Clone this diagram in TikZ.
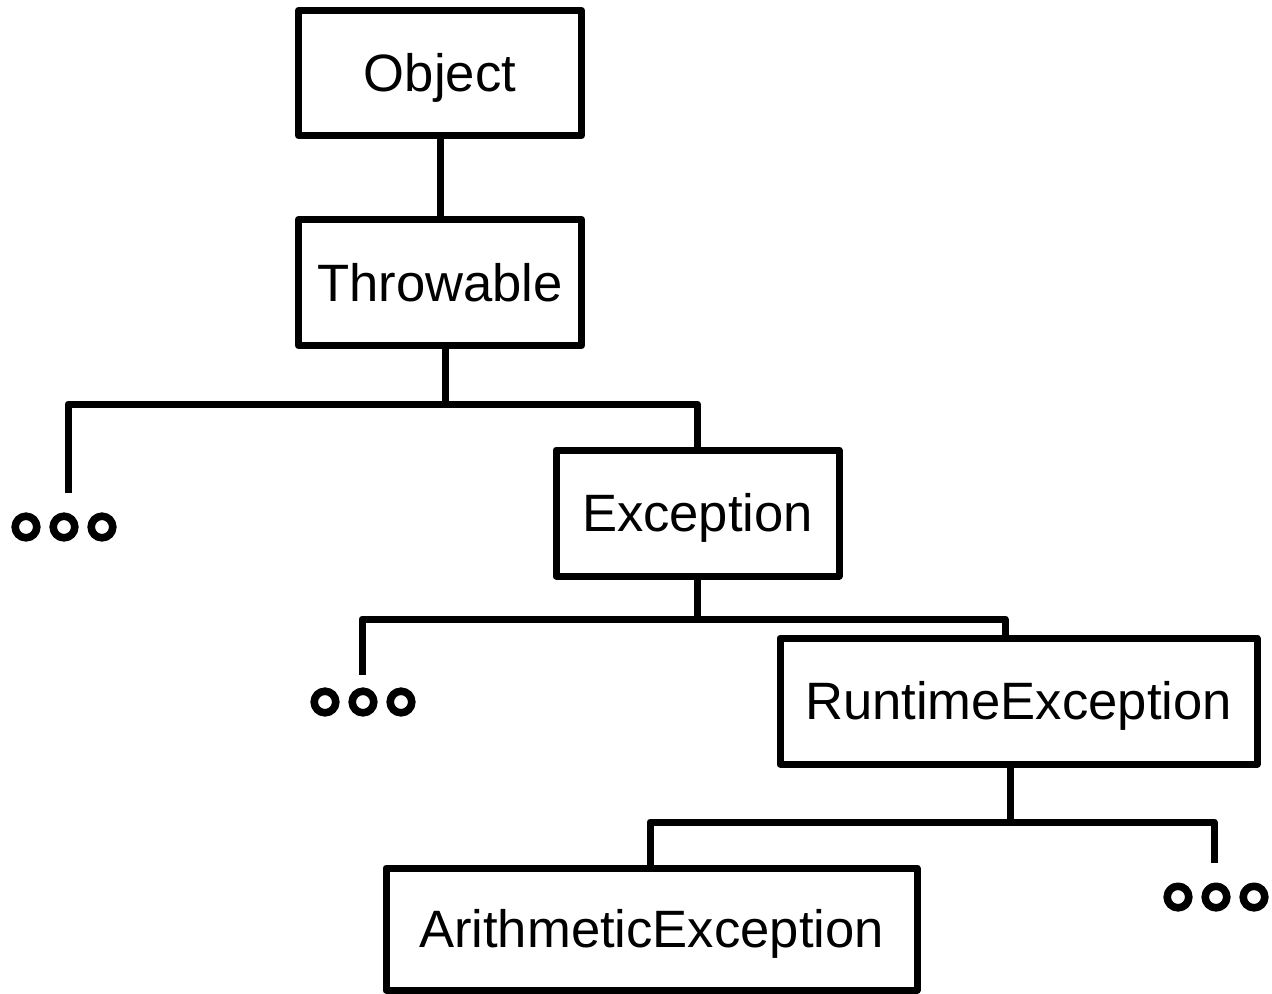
\documentclass[tikz,border=0pt]{standalone}
\usepackage{fontspec}
\setmainfont{Liberation Sans}
\begin{document}
\begin{tikzpicture}[x=0.5pt,y=-0.5pt,
  line width=3.5pt, line join=round,
  cls/.style={draw, line width=3.5pt, inner sep=0pt, outer sep=0pt,
    font=\fontsize{26.3}{30}\selectfont, text height=18.8pt, text depth=0pt},
  dotgrp/.style={inner sep=0pt, minimum width=1pt, minimum height=1pt},
  dotring/.style={line width=3.8pt}
]
\useasboundingbox (0,0) rectangle (1272,993);
% classes
\node[cls, minimum width=141.5pt, minimum height=62.5pt] (obj) at (440,73) {Object};
\node[cls, minimum width=141.5pt, minimum height=63pt] (thr) at (440,282.5) {Throwable};
\node[cls, minimum width=141.5pt, minimum height=63pt] (exc) at (697.5,513) {Exception};
\node[cls, minimum width=238.5pt, minimum height=63pt] (rt) at (1018.5,701) {RuntimeException};
\node[cls, minimum width=265.5pt, minimum height=61pt] (ar) at (651.5,929) {ArithmeticException};
% ellipsis groups
\node[dotgrp] (d1) at (64,527) {};
\node[dotgrp] (d2) at (363,702) {};
\node[dotgrp] (d3) at (1216,897) {};
\foreach \g in {d1,d2,d3}{
  \foreach \dx in {-38,0,38}{
    \draw[dotring] (\g) ++(\dx,0) circle[radius=5.4pt];
  }
}
% junction coordinates
\coordinate (j1) at (445,404);
\coordinate (c1) at (68,493);
\coordinate (j2) at (697.5,619);
\coordinate (r2) at (1005,619);
\coordinate (c2) at (362,675);
\coordinate (j3) at (1010,822);
\coordinate (c3) at (1214,863);
% connectors
\draw (obj.south) -- (thr.north);
\draw (thr.south -| j1) -- (j1);
\draw (c1) |- (j1) -| (exc.north);
\draw (exc.south) -- (j2);
\draw (c2) |- (r2) -- (r2 |- rt.north);
\draw (rt.south -| j3) -- (j3);
\draw (ar.north -| 650,0) |- (j3) -| (c3);
\end{tikzpicture}
\end{document}
